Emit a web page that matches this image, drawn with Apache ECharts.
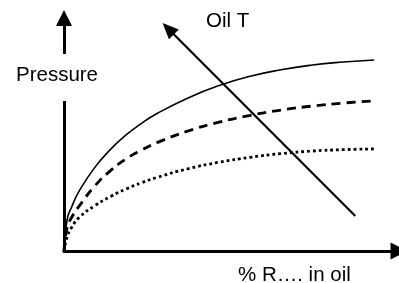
<!DOCTYPE html>
<html>
<head>
<meta charset="utf-8">
<script src="https://cdn.jsdelivr.net/npm/echarts@6/dist/echarts.min.js"></script>
<style>
html,body{margin:0;padding:0;background:#fff;}
#c{width:399px;height:283px;}
</style>
</head>
<body>
<div id="c"></div>
<script>
// Data (x = % R.... in oil, y = pressure), arbitrary units
const xValues = [0, 1, 2.5, 5, 10, 15, 20, 25, 30, 40, 50, 60, 70, 80, 90, 100];
const solidY  = [0, 13.5, 19, 26, 36, 43.6, 49.8, 54.8, 59, 65.7, 71, 75, 77.8, 79.8, 81.1, 82];
const dashedY = [0, 10, 14.5, 19.5, 28, 34.5, 39.5, 43.3, 46.5, 51.5, 55.3, 58.2, 60.5, 62.2, 63.5, 64.4];
const dottedY = [0, 6, 10.2, 14.5, 19.5, 23.4, 26.6, 29.3, 31.6, 35.3, 38.1, 40.2, 41.8, 42.9, 43.5, 43.8];
// "Oil T" arrow: tail and head in data coordinates
const oilTArrow = [[93.9, 15.0], [33.6, 95.4]];
const labels = { y: 'Pressure', x: '% R…. in oil', arrow: 'Oil T' };

const zip = (xs, ys) => xs.map((x, i) => [x, ys[i]]);
const FONT = '"Liberation Sans", Arial, sans-serif';

const chart = echarts.init(document.getElementById('c'), null, {renderer: 'canvas'});
chart.setOption({
  animation: false,
  backgroundColor: '#fff',
  grid: {left: 64, right: -1, top: 18, bottom: 32, containLabel: false},
  xAxis: {
    type: 'value', min: 0, max: 108,
    axisLine: {show: true, onZero: false, symbol: ['none', 'triangle'], symbolSize: [17, 17],
      lineStyle: {color: '#000', width: 3}},
    axisTick: {show: false}, axisLabel: {show: false}, splitLine: {show: false}
  },
  yAxis: {
    type: 'value', min: 0, max: 100,
    axisLine: {show: true, onZero: false, symbol: ['none', 'triangle'], symbolSize: [16, 16],
      lineStyle: {color: '#000', width: 3}},
    axisTick: {show: false}, axisLabel: {show: false}, splitLine: {show: false}
  },
  series: [
    {type: 'line', data: zip(xValues, solidY), smooth: 0.5, showSymbol: false,
      lineStyle: {color: '#000', width: 1.6, type: 'solid'},
      markLine: {
        silent: true, symbol: ['none', 'triangle'], symbolSize: [14, 16],
        label: {show: false},
        lineStyle: {color: '#000', width: 2.2, type: 'solid'},
        data: [[{coord: oilTArrow[0]}, {coord: oilTArrow[1]}]]
      }},
    {type: 'line', data: zip(xValues, dashedY), smooth: 0.5, showSymbol: false,
      lineStyle: {color: '#000', width: 2.8, type: [9, 6]}},
    {type: 'line', data: zip(xValues, dottedY), smooth: 0.5, showSymbol: false,
      lineStyle: {color: '#000', width: 2.8, type: [2.8, 3]}}
  ],
  graphic: [
    {type: 'rect', z: 100, shape: {x: 10, y: 54, width: 95, height: 47}, style: {fill: '#fff'}},
    {type: 'text', z: 101, x: 57, y: 75.5,
      style: {text: labels.y, font: '20.5px ' + FONT, fill: '#000', align: 'center', verticalAlign: 'middle'}},
    {type: 'text', z: 101, x: 206, y: 21,
      style: {text: labels.arrow, font: '20.5px ' + FONT, fill: '#000', align: 'left', verticalAlign: 'middle'}},
    {type: 'text', z: 101, x: 238, y: 275,
      style: {text: labels.x, font: '20.5px ' + FONT, fill: '#000', align: 'left', verticalAlign: 'middle'}}
  ]
});
</script>
</body>
</html>
